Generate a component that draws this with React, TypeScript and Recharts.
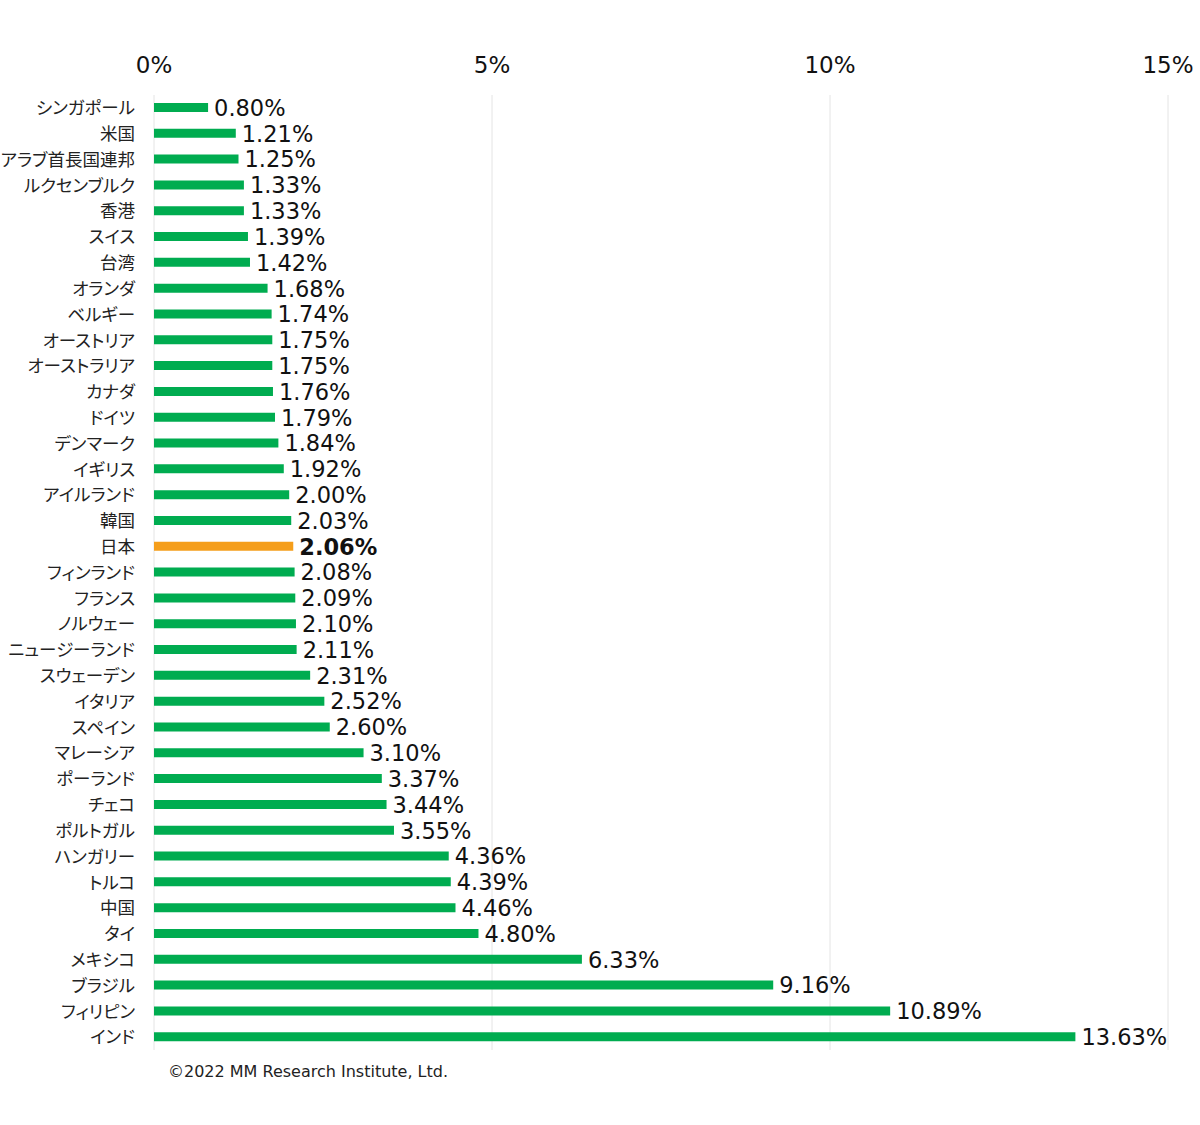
import React from "react";
import { BarChart, Bar, XAxis, YAxis, CartesianGrid, Cell, LabelList } from "recharts";

const countries = [
  "シンガポール", "米国", "アラブ首長国連邦", "ルクセンブルク", "香港", "スイス", "台湾", "オランダ",
  "ベルギー", "オーストリア", "オーストラリア", "カナダ", "ドイツ", "デンマーク", "イギリス", "アイルランド",
  "韓国", "日本", "フィンランド", "フランス", "ノルウェー", "ニュージーランド", "スウェーデン", "イタリア",
  "スペイン", "マレーシア", "ポーランド", "チェコ", "ポルトガル", "ハンガリー", "トルコ", "中国",
  "タイ", "メキシコ", "ブラジル", "フィリピン", "インド",
];
const values = [
  0.80, 1.21, 1.25, 1.33, 1.33, 1.39, 1.42, 1.68,
  1.74, 1.75, 1.75, 1.76, 1.79, 1.84, 1.92, 2.00,
  2.03, 2.06, 2.08, 2.09, 2.10, 2.11, 2.31, 2.52,
  2.60, 3.10, 3.37, 3.44, 3.55, 4.36, 4.39, 4.46,
  4.80, 6.33, 9.16, 10.89, 13.63,
];
const xTicks = [0, 5, 10, 15];
const highlight = "日本";
const source = "©2022 MM Research Institute, Ltd.";

const GREEN = "#00AC50";
const ORANGE = "#F59E1B";
const NUM_FONT = "Verdana, 'DejaVu Sans', sans-serif";
const JP_FONT = "'Noto Sans CJK JP', sans-serif";

const data = countries.map((c, i) => ({ name: c, value: values[i] }));

const ValueLabel = (props: any) => {
  const { x, y, width, height, value, index } = props;
  const isHi = countries[index] === highlight;
  return (
    <text
      x={x + width + 6}
      y={y + height / 2}
      dy="0.37em"
      fontSize={22.5}
      fontFamily={NUM_FONT}
      fontWeight={isHi ? "bold" : "normal"}
      fill="#111"
    >
      {value.toFixed(2) + "%"}
    </text>
  );
};

const CategoryTick = (props: any) => {
  const { x, y, payload } = props;
  return (
    <text
      x={x}
      y={y}
      dy="0.36em"
      textAnchor="end"
      fontSize={17.5}
      fontFamily={JP_FONT}
      fill="#222"
      style={{ fontFeatureSettings: "'palt'" }}
    >
      {payload.value}
    </text>
  );
};

export default function App() {
  return (
    <div style={{ position: "absolute", left: 0, top: 0, width: 1200, height: 1125, background: "#fff" }}>
      <BarChart
        width={1200}
        height={1125}
        data={data}
        layout="vertical"
        margin={{ top: 0, right: 32, bottom: 75, left: 0 }}
        barCategoryGap={0}
      >
        <CartesianGrid horizontal={false} vertical={true} stroke="#e4e4e4" />
        <XAxis
          type="number"
          orientation="top"
          domain={[0, 15]}
          ticks={xTicks}
          tickFormatter={(v: number) => `${v}%`}
          axisLine={false}
          tickLine={false}
          tickSize={0}
          tickMargin={22}
          height={95}
          tick={{ fontSize: 23, fontFamily: NUM_FONT, fill: "#111" }}
          interval={0}
        />
        <YAxis
          type="category"
          dataKey="name"
          width={154}
          axisLine={false}
          tickLine={false}
          tickSize={0}
          tickMargin={19}
          interval={0}
          tick={<CategoryTick />}
        />
        <Bar dataKey="value" barSize={9} isAnimationActive={false}>
          {data.map((d) => (
            <Cell key={d.name} fill={d.name === highlight ? ORANGE : GREEN} />
          ))}
          <LabelList dataKey="value" content={ValueLabel} />
        </Bar>
      </BarChart>
      <div
        style={{
          position: "absolute",
          left: 168,
          top: 1062,
          fontSize: 16,
          fontFamily: NUM_FONT,
          color: "#222",
          whiteSpace: "nowrap",
        }}
      >
        {source}
      </div>
    </div>
  );
}
